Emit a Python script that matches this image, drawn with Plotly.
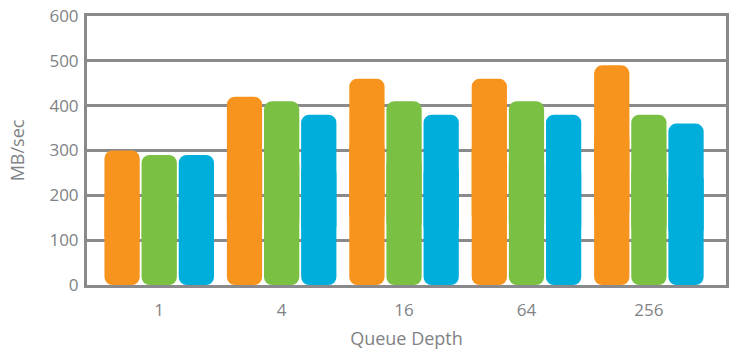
import plotly.graph_objects as go

# Throughput by queue depth, three series
queue_depth = ["1", "4", "16", "64", "256"]
series_a = [300, 420, 460, 460, 490]   # orange
series_b = [290, 410, 410, 410, 380]   # green
series_c = [290, 380, 380, 380, 360]   # blue
y_ticks = [0, 100, 200, 300, 400, 500, 600]

colors = ["#F7941E", "#7AC143", "#00AEDB"]
grid_color = "#8A8A8D"
text_color = "#808285"
font_family = "Open Sans"

fig = go.Figure()

# Each bar is drawn as two overlapping pieces: one rounded at the top and one
# rounded at the bottom, so the combined bar has rounded corners at both ends.
for i, (vals, col) in enumerate(zip([series_a, series_b, series_c], colors)):
    lo = [v * 0.3 for v in vals]
    hi = [v * 0.7 for v in vals]
    fig.add_trace(go.Bar(
        x=queue_depth, y=[v - l for v, l in zip(vals, lo)], base=lo, offsetgroup=str(i),
        marker=dict(color=col, line=dict(width=0), cornerradius=8),
        showlegend=False, hoverinfo="skip",
    ))
    fig.add_trace(go.Bar(
        x=queue_depth, y=[-h for h in hi], base=hi, offsetgroup=str(i),
        marker=dict(color=col, line=dict(width=0), cornerradius=8),
        showlegend=False, hoverinfo="skip",
    ))

fig.update_layout(
    width=733, height=355,
    margin=dict(l=87, r=4, t=16, b=70),
    paper_bgcolor="white", plot_bgcolor="white",
    barmode="group", bargap=0.09, bargroupgap=0.05,
    font=dict(family=font_family, size=17, color=text_color),
    xaxis=dict(
        type="category", range=[-0.59, 4.63],
        showgrid=False, showline=True, linecolor=grid_color, linewidth=3,
        mirror=True, ticks="", ticklabelstandoff=8,
        tickfont=dict(size=17, color=text_color),
        title=dict(text="Queue Depth", font=dict(size=18, color=text_color), standoff=12),
    ),
    yaxis=dict(
        range=[0, 600], tickvals=y_ticks, showgrid=True, gridcolor=grid_color,
        gridwidth=3, showline=True, linecolor=grid_color, linewidth=3, mirror=True,
        zeroline=False, ticks="", ticklabelstandoff=2,
        tickfont=dict(size=17, color=text_color),
        title=dict(text="MB/sec", font=dict(size=18, color=text_color), standoff=21),
    ),
)

fig.write_html("out.html")
